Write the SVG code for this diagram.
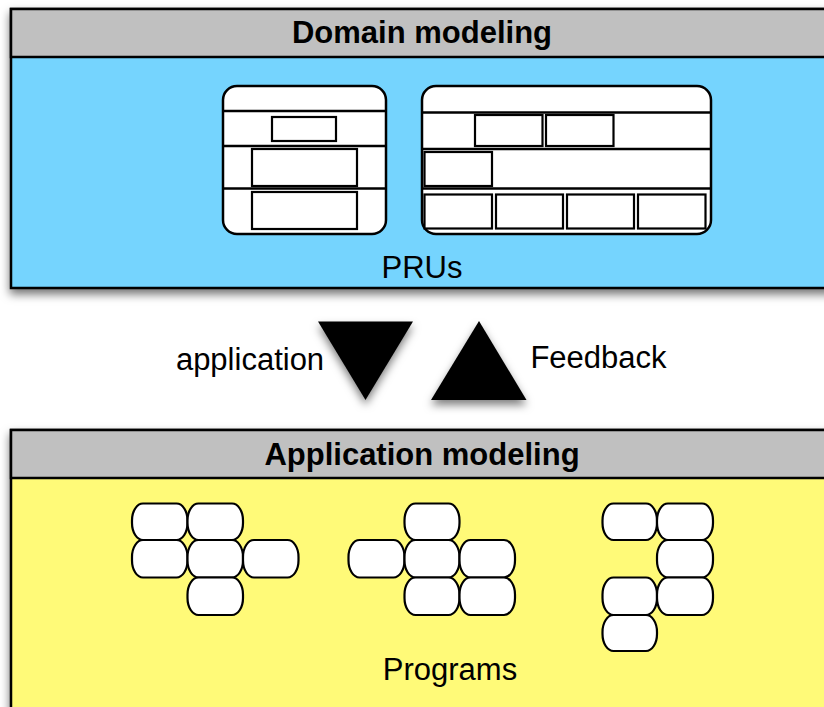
<svg xmlns="http://www.w3.org/2000/svg" width="824" height="707" viewBox="0 0 824 707">
<defs>
<filter id="sh" x="-10%" y="-10%" width="120%" height="130%">
<feDropShadow dx="0" dy="5" stdDeviation="5" flood-color="#000" flood-opacity="0.55"/>
</filter>
<filter id="tsh" x="-30%" y="-30%" width="160%" height="170%">
<feDropShadow dx="0" dy="5" stdDeviation="4" flood-color="#000" flood-opacity="0.5"/>
</filter>
</defs>
<style>
.panel{stroke:#000;stroke-width:2.5}
.hdr{fill:#c0c0c0;stroke:#000;stroke-width:2.5}
.t{font-family:"Liberation Sans",Arial,sans-serif;font-size:31px;fill:#000;text-anchor:middle}
.b{font-weight:bold}
.pru{fill:#fff;stroke:#000;stroke-width:2.5}
.ln{stroke:#000;stroke-width:2.5;fill:none}
.ib{fill:#fff;stroke:#000;stroke-width:2.2}
.pg{fill:#fff;stroke:#000;stroke-width:2.2}
</style>

<g id="domain-modeling">
<rect class="panel" x="11" y="9" width="822" height="279" fill="#74d4fe" filter="url(#sh)"/>
<rect class="hdr" x="11" y="9" width="822" height="48"/>
<text class="t b" x="422" y="43">Domain modeling</text>
<text class="t" x="422" y="278">PRUs</text>
</g>

<g id="pru-left">
<rect class="pru" x="223" y="86" width="163" height="148" rx="14"/>
<line class="ln" x1="223" y1="111" x2="386" y2="111"/>
<line class="ln" x1="223" y1="146" x2="386" y2="146"/>
<line class="ln" x1="223" y1="188.5" x2="386" y2="188.5"/>
<rect class="ib" x="272" y="117" width="64" height="24"/>
<rect class="ib" x="252" y="149" width="105" height="37"/>
<rect class="ib" x="252" y="192" width="105" height="37"/>
</g>

<g id="pru-right">
<rect class="pru" x="422" y="86" width="289" height="148" rx="14"/>
<line class="ln" x1="422" y1="112.5" x2="711" y2="112.5"/>
<line class="ln" x1="422" y1="149" x2="711" y2="149"/>
<line class="ln" x1="422" y1="188.5" x2="711" y2="188.5"/>
<rect class="ib" x="475" y="115" width="67.5" height="31"/>
<rect class="ib" x="546" y="115" width="67.5" height="31"/>
<rect class="ib" x="424.5" y="152" width="67.5" height="34"/>
<rect class="ib" x="424.5" y="194.5" width="67.5" height="34"/>
<rect class="ib" x="496" y="194.5" width="67" height="34"/>
<rect class="ib" x="567" y="194.5" width="67" height="34"/>
<rect class="ib" x="638" y="194.5" width="67.5" height="34"/>
</g>

<g id="connectors">
<polygon points="318,321.5 413,321.5 365.5,400" fill="#000" filter="url(#tsh)"/>
<polygon points="479,321 526.5,400 431,400" fill="#000" filter="url(#tsh)"/>
<text class="t" x="250" y="370">application</text>
<text class="t" x="598.5" y="368">Feedback</text>
</g>

<g id="application-modeling">
<rect class="panel" x="11" y="430" width="822" height="290" fill="#fffa78" filter="url(#sh)"/>
<rect class="hdr" x="11" y="430" width="822" height="48"/>
<text class="t b" x="422" y="465">Application modeling</text>
<text class="t" x="450" y="680">Programs</text>
</g>

<g id="program-1">
<rect class="pg" x="132" y="503.5" width="55.5" height="36.5" rx="11" ry="17"/>
<rect class="pg" x="187.5" y="503.5" width="55.5" height="36.5" rx="11" ry="17"/>
<rect class="pg" x="132" y="540" width="55.5" height="37.5" rx="11" ry="17"/>
<rect class="pg" x="187.5" y="540" width="55.5" height="37.5" rx="11" ry="17"/>
<rect class="pg" x="243" y="540" width="55.5" height="37.5" rx="11" ry="17"/>
<rect class="pg" x="187.5" y="577.5" width="55.5" height="37.5" rx="11" ry="17"/>
</g>

<g id="program-2">
<rect class="pg" x="404.5" y="503.5" width="55" height="36.5" rx="11" ry="17"/>
<rect class="pg" x="348.5" y="540" width="56" height="37.5" rx="11" ry="17"/>
<rect class="pg" x="404.5" y="540" width="55" height="37.5" rx="11" ry="17"/>
<rect class="pg" x="459.5" y="540" width="55.5" height="37.5" rx="11" ry="17"/>
<rect class="pg" x="404.5" y="577.5" width="55" height="37.5" rx="11" ry="17"/>
<rect class="pg" x="459.5" y="577.5" width="55.5" height="37.5" rx="11" ry="17"/>
</g>

<g id="program-3">
<rect class="pg" x="602.5" y="503.5" width="54.5" height="36.5" rx="11" ry="17"/>
<rect class="pg" x="657" y="503.5" width="56" height="36.5" rx="11" ry="17"/>
<rect class="pg" x="657" y="540" width="56" height="37.5" rx="11" ry="17"/>
<rect class="pg" x="602.5" y="577.5" width="54.5" height="37.5" rx="11" ry="17"/>
<rect class="pg" x="657" y="577.5" width="56" height="37.5" rx="11" ry="17"/>
<rect class="pg" x="602.5" y="615" width="54.5" height="36" rx="11" ry="17"/>
</g>
</svg>
